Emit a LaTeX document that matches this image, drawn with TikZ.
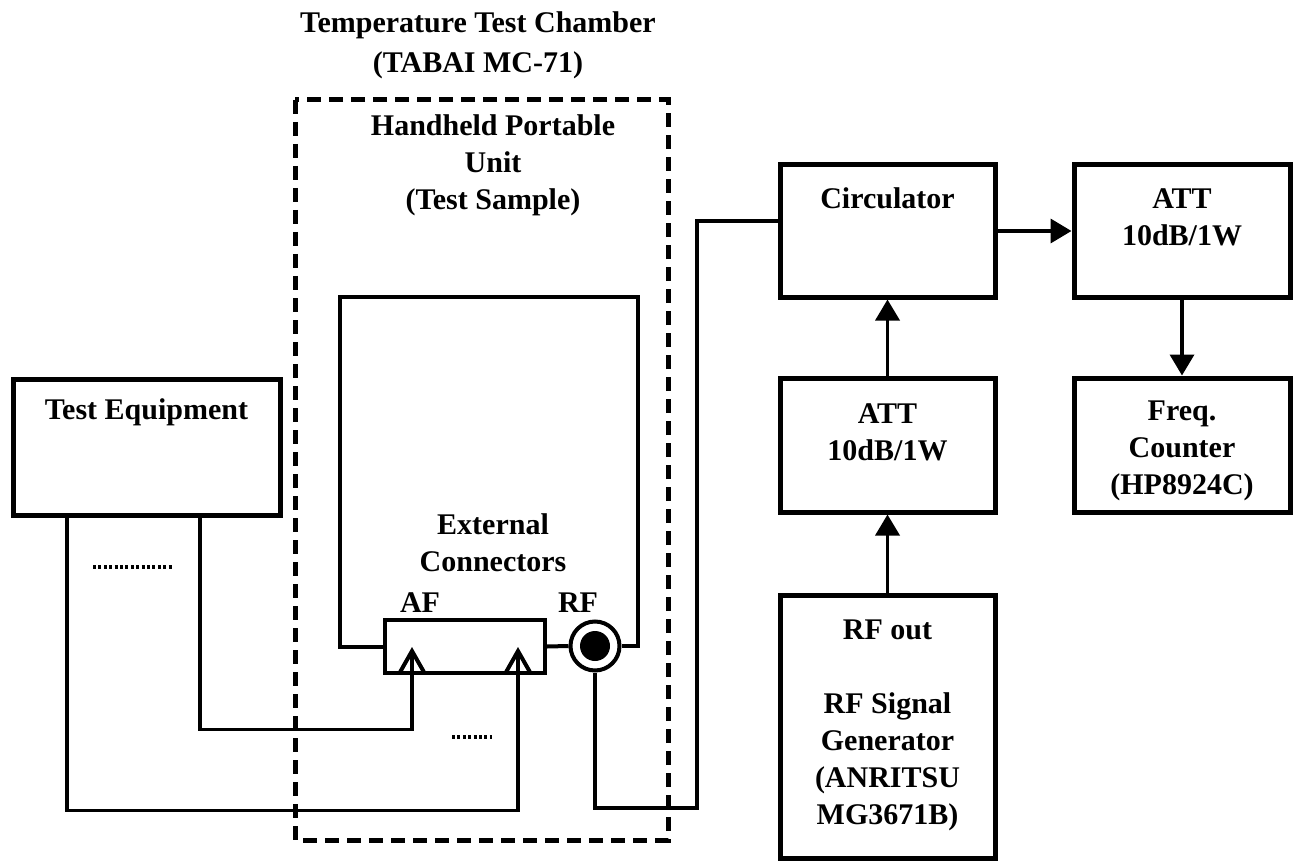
\documentclass[tikz,border=0pt]{standalone}
\usepackage{fontspec}
\setmainfont{Liberation Serif}
\usetikzlibrary{positioning,arrows.meta,fit}
\tikzset{
  node-box/.style={draw,line width=2.5pt,inner sep=0pt},
  node-conn/.style={draw,line width=2pt,inner sep=0pt},
  node-text/.style={align=center,inner sep=0pt,
    font=\fontsize{15}{18.5}\selectfont\bfseries},
  chamber/.style={draw,line width=2.5pt,dash pattern=on 7pt off 4pt},
  wire/.style={line width=1.8pt},
  arrow/.style={-{Triangle[length=10.5pt,width=12pt]},line width=1.8pt},
  arrow-pin/.style={-{Straight Barb[length=11pt,width=12.5pt,line width=2pt]},
    line width=1.8pt},
  more-lines/.style={line width=2pt,dash pattern=on 1.5pt off 1.2pt},
}
\begin{document}
\begin{tikzpicture}[x=0.5pt,y=-0.5pt]
  \useasboundingbox (0,0) rectangle (1295,861);
  % chamber and test sample
  \node[node-text,font=\fontsize{15}{20}\selectfont\bfseries] (title) at (478,45)
    {Temperature Test Chamber\\(TABAI MC-71)};
  \draw[chamber] (295,100) rectangle (668,840);
  \node[node-text] (hpu) at (493,165) {Handheld Portable\\Unit\\(Test Sample)};
  \node[node-text] (ext) at (493,543) {External\\Connectors};
  \node[node-conn,fit={(385,620) (545,673)}] (af) {};
  \node[node-conn,circle,minimum size=24.5pt] (rfc) at (595,646) {};
  \fill (rfc.center) circle (7.5pt);
  \node[node-text] (af-lbl) at (420,603) {AF};
  \node[node-text] (rf-lbl) at (578,603) {RF};
  \draw[line width=2pt] (af.west) -| (340,297) -| (638,646) -- (rfc.east);
  \draw[line width=2pt] (af.east) -- (rfc.west);

  % test equipment
  \node[node-box,fit={(13,379) (280,515)}] (te) {};
  \node[node-text] at (te.north |- 0,412) {Test Equipment};
  \coordinate (te-a) at (te.south -| 67,0);
  \coordinate (te-b) at (te.south -| 200,0);
  \coordinate (af-a) at (412,647);
  \coordinate (af-b) at (518,647);
  \draw[arrow-pin] (te-a) -- ++(0,293) -| (af-b);
  \draw[arrow-pin] (te-b) -- ++(0,212) -| (af-a);
  \draw[more-lines] (93,567) -- (173,567);
  \draw[more-lines] (452,737) -- (492,737);

  % RF chain
  \node[node-box,fit={(780,165) (995,297)}] (circ) {};
  \node[node-text] at (circ.north |- 0,198) {Circulator};
  \node[node-box,fit={(1074,165) (1290,297)}] (att-out) {};
  \node[node-text] at (att-out.north |- 0,217) {ATT\\10dB/1W};
  \node[node-box,fit={(780,378) (995,512)}] (att-in) {};
  \node[node-text] at (att-in.north |- 0,432) {ATT\\10dB/1W};
  \node[node-box,fit={(1074,378) (1290,512)}] (freq) {};
  \node[node-text] at (freq.north |- 0,451) {Freq.\\Counter\\(HP8924C)};
  \node[node-box,fit={(780,595) (995,858)}] (gen) {};
  \node[node-text] at (gen.north |- 0,725)
    {RF out\\[18.5pt]RF Signal\\Generator\\(ANRITSU\\MG3671B)};
  \coordinate (rf-bend) at (697,808);
  \draw[wire] (rfc.south) |- (rf-bend) |- ([yshift=5pt]circ.west);
  \draw[arrow] (circ) -- (att-out);
  \draw[arrow] (att-out) -- (freq);
  \draw[arrow] (att-in) -- (circ);
  \draw[arrow] (gen) -- (att-in);
\end{tikzpicture}
\end{document}
